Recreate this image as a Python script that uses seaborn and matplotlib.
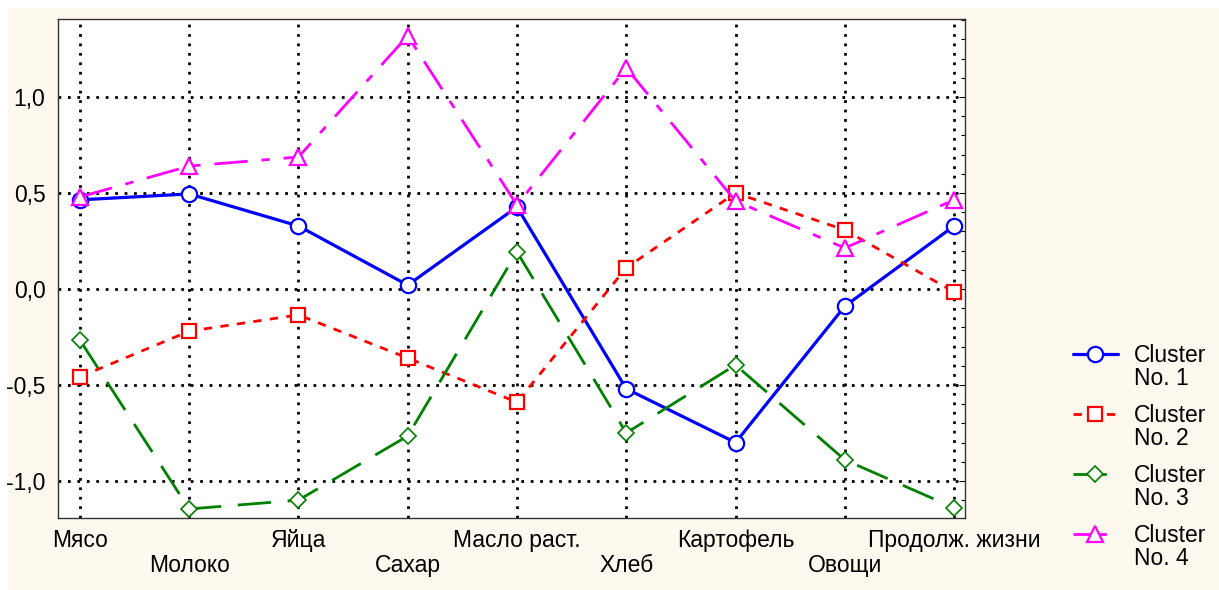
import numpy as np
import pandas as pd
import matplotlib
matplotlib.use("Agg")
import matplotlib.pyplot as plt
import seaborn as sns
from matplotlib.ticker import MultipleLocator, FuncFormatter
from matplotlib.patches import Rectangle

# данные
categories = ["Мясо", "Молоко", "Яйца", "Сахар", "Масло раст.", "Хлеб",
              "Картофель", "Овощи", "Продолж. жизни"]
cluster_1 = [0.464, 0.495, 0.328, 0.02, 0.427, -0.52, -0.80, -0.09, 0.328]
cluster_2 = [-0.458, -0.22, -0.135, -0.36, -0.59, 0.11, 0.50, 0.307, -0.016]
cluster_3 = [-0.266, -1.146, -1.10, -0.766, 0.193, -0.75, -0.396, -0.89, -1.14]
cluster_4 = [0.479, 0.64, 0.687, 1.318, 0.437, 1.151, 0.458, 0.213, 0.464]
cluster_names = ["Cluster No. 1", "Cluster No. 2", "Cluster No. 3", "Cluster No. 4"]

sns.set_style("white")
plt.rcParams["font.family"] = ["Liberation Sans", "DejaVu Sans"]
plt.rcParams.update({"text.color": "black", "xtick.color": "black",
                     "ytick.color": "black", "axes.labelcolor": "black"})
FS = 16.5

rows = []
for name, vals in zip(cluster_names, [cluster_1, cluster_2, cluster_3, cluster_4]):
    for i, v in enumerate(vals):
        rows.append({"pos": i, "value": v, "cluster": name})
df = pd.DataFrame(rows)

palette = {cluster_names[0]: "#0000ff", cluster_names[1]: "#ff0000",
           cluster_names[2]: "#008000", cluster_names[3]: "#ff00ff"}
dashes = {cluster_names[0]: "", cluster_names[1]: (3, 3),
          cluster_names[2]: (12, 6), cluster_names[3]: (12, 5, 3, 5)}
markers = {cluster_names[0]: "o", cluster_names[1]: "s",
           cluster_names[2]: "D", cluster_names[3]: "^"}

fig = plt.figure(figsize=(12.19, 5.90), dpi=100, facecolor="white")
fig.patches.append(Rectangle((8 / 1219, 0), 1 - 8 / 1219, 1 - 8 / 590,
                             transform=fig.transFigure, facecolor="#fdf9ee",
                             edgecolor="none", zorder=-10))
ax = fig.add_axes([58 / 1219, 72 / 590, 907 / 1219, 499 / 590])
ax.set_facecolor("white")

sns.lineplot(data=df, x="pos", y="value", hue="cluster", style="cluster",
             palette=palette, dashes=dashes, markers=markers, linewidth=2,
             markersize=11, legend=False, ax=ax, zorder=3)

for line in ax.lines:
    line.set_markerfacecolor("white")
    line.set_markeredgecolor(line.get_color())
    line.set_markeredgewidth(1.6)
    m = line.get_marker()
    if m == "o":
        line.set_linewidth(2.3)
    elif m == "D":
        line.set_markersize(8)
        line.set_markeredgewidth(1.2)
    elif m == "s":
        line.set_markersize(10)

ax.set_xlim(-0.2, 8.1)
ax.set_ylim(-1.193, 1.406)
ax.set_xticks(range(len(categories)))
ax.set_xticklabels([c if i % 2 == 0 else "\n" + c for i, c in enumerate(categories)])
for lab in ax.get_xticklabels():
    lab.set_linespacing(1.1)
ax.yaxis.set_major_locator(MultipleLocator(0.5))
ax.yaxis.set_minor_locator(MultipleLocator(0.1))
ax.yaxis.set_major_formatter(FuncFormatter(lambda v, p: f"{v:.1f}".replace(".", ",").replace("-0,0", "0,0")))
ax.tick_params(axis="y", which="both", direction="in", right=True, labelsize=FS, pad=9)
ax.tick_params(axis="y", which="minor", length=3, width=0.8)
ax.tick_params(axis="y", which="major", length=4, width=0.8)
ax.tick_params(axis="x", length=0, labelsize=FS, pad=8)
ax.grid(True, which="major", color="black", linestyle=(0, (1, 2.4)), linewidth=2)
ax.set_axisbelow(True)
for s in ax.spines.values():
    s.set_color("#333333")
    s.set_linewidth(1)
ax.set_xlabel("")
ax.set_ylabel("")

# легенда: "Cluster" рядом с маркером, "No. k" строкой ниже
handles = ax.lines[:4]
leg = ax.legend(handles, ["Cluster"] * 4, loc="upper left",
                bbox_to_anchor=(1073 / 1219, 1 - 344 / 590),
                bbox_transform=fig.transFigure, frameon=False,
                fontsize=FS, handlelength=1.95, handletextpad=0.72,
                labelspacing=1.62, borderaxespad=0, borderpad=0)
fig.canvas.draw()
for k, t in enumerate(leg.get_texts()):
    bb = t.get_window_extent()
    fig.text(bb.x0 / 1219, (bb.y0 - 23) / 590, cluster_names[k].split(" ", 1)[1],
             fontsize=FS, ha="left", va="bottom")

fig.savefig("out.png", dpi=100, facecolor=fig.get_facecolor())
